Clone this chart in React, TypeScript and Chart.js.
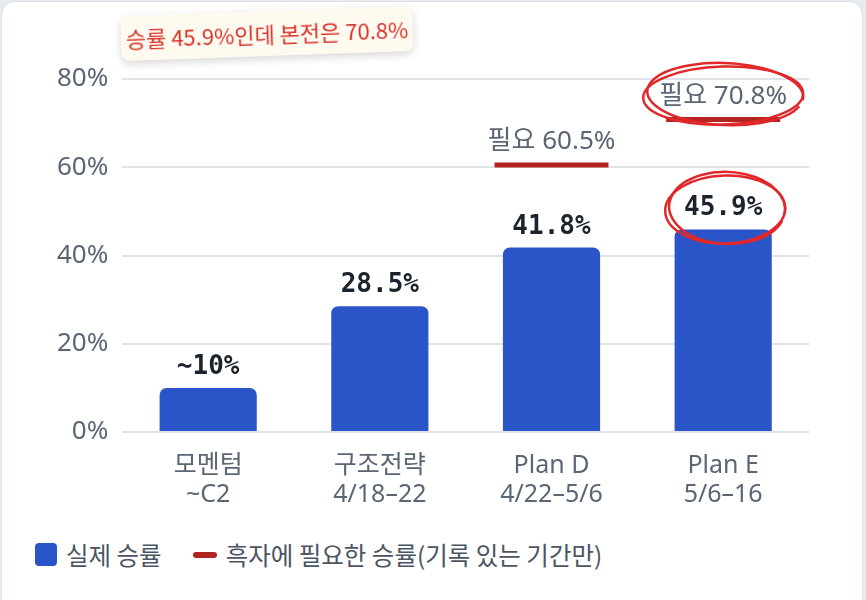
import { useEffect, useRef } from 'react';
import { Chart, registerables } from 'chart.js';

Chart.register(...registerables);

const categories = [
  ['모멘텀', '~C2'],
  ['구조전략', '4/18–22'],
  ['Plan D', '4/22–5/6'],
  ['Plan E', '5/6–16'],
];
const actualWinRate = [10, 28.5, 41.8, 45.9];
const actualLabels = ['~10%', '28.5%', '41.8%', '45.9%'];
const neededWinRate: (number | null)[] = [null, null, 60.5, 70.8];
const yTicks = [0, 20, 40, 60, 80];
const noteText = '승률 45.9%인데 본전은 70.8%';

const BLUE = '#2a55c8';
const DARK_RED = '#b3231f';
const MARKER_RED = '#e0282a';
const GRAY_TEXT = '#5b6675';
const SANS = '"Noto Sans", "Noto Sans CJK KR", sans-serif';

// draws one wobbly, double-stroked ellipse like a marker circle
function handCircle(ctx: CanvasRenderingContext2D, cx: number, cy: number, rx: number, ry: number) {
  ctx.save();
  ctx.strokeStyle = MARKER_RED;
  ctx.lineWidth = 2.5;
  ctx.beginPath();
  ctx.ellipse(cx, cy, rx, ry, -0.03, 0, Math.PI * 2);
  ctx.stroke();
  ctx.beginPath();
  ctx.ellipse(cx + 2, cy - 1.5, rx - 2, ry + 2, 0.04, 0.3, Math.PI * 2 + 0.1);
  ctx.stroke();
  ctx.restore();
}

const annotations = {
  id: 'annotations',
  afterDatasetsDraw(chart: Chart) {
    const ctx = chart.ctx;
    const bars = chart.getDatasetMeta(0).data;
    const marks = chart.getDatasetMeta(1).data;
    ctx.save();
    ctx.textAlign = 'center';
    ctx.textBaseline = 'alphabetic';

    ctx.font = 'bold 26px "DejaVu Sans Mono", monospace';
    ctx.fillStyle = '#1d232c';
    bars.forEach((bar, i) => ctx.fillText(actualLabels[i], bar.x, bar.y - 14));

    ctx.font = `26px ${SANS}`;
    ctx.fillStyle = GRAY_TEXT;
    marks.forEach((pt, i) => {
      const v = neededWinRate[i];
      if (v == null) return;
      ctx.fillText(`필요 ${v}%`, pt.x, pt.y - 16);
    });
    ctx.restore();

    // highlight the last column
    const last = actualWinRate.length - 1;
    const lastMark = marks[last];
    const lastBar = bars[last];
    handCircle(ctx, lastMark.x, lastMark.y - 24, 80, 29);
    handCircle(ctx, lastBar.x + 2, lastBar.y - 20, 60, 34);
  },
};

function WinRateChart() {
  const canvasRef = useRef<HTMLCanvasElement>(null);
  const chartRef = useRef<Chart | null>(null);

  useEffect(() => {
    if (!canvasRef.current) return;
    if (chartRef.current) chartRef.current.destroy();

    chartRef.current = new Chart(canvasRef.current, {
      type: 'bar',
      data: {
        labels: categories,
        datasets: [
          {
            type: 'bar',
            label: '실제 승률',
            data: actualWinRate,
            backgroundColor: BLUE,
            borderRadius: 7,
            borderSkipped: 'start',
            categoryPercentage: 1,
            barPercentage: 0.566,
          },
          {
            type: 'line',
            label: '흑자에 필요한 승률(기록 있는 기간만)',
            data: neededWinRate,
            showLine: false,
            pointStyle: 'line',
            pointRadius: 57,
            pointHoverRadius: 57,
            pointBorderWidth: 5,
            pointBorderColor: DARK_RED,
            borderColor: DARK_RED,
            backgroundColor: DARK_RED,
          },
        ],
      } as any,
      options: {
        responsive: true,
        maintainAspectRatio: false,
        animation: false,
        layout: { padding: { top: 77, left: 41, right: 37, bottom: 8 } },
        plugins: {
          legend: { display: false },
          tooltip: { enabled: false },
        },
        scales: {
          x: {
            grid: { display: false },
            border: { display: false },
            ticks: {
              font: { family: SANS, size: 25, lineHeight: 1.18 },
              color: GRAY_TEXT,
              padding: 11,
            },
          },
          y: {
            min: yTicks[0],
            max: yTicks[yTicks.length - 1],
            afterBuildTicks: (scale: any) => {
              scale.ticks = yTicks.map(value => ({ value }));
            },
            grid: { color: '#dfe3e9', lineWidth: 2, drawTicks: false },
            border: { display: false },
            ticks: {
              callback: (v: any) => `${v}%`,
              font: { family: SANS, size: 26 },
              color: GRAY_TEXT,
              padding: 14,
            },
          },
        },
      },
      plugins: [annotations],
    });

    return () => {
      if (chartRef.current) {
        chartRef.current.destroy();
        chartRef.current = null;
      }
    };
  }, []);

  return <canvas ref={canvasRef}></canvas>;
}

export default function App() {
  useEffect(() => {
    document.body.style.margin = '0';
    document.body.style.background = '#e7eaee';
  }, []);

  return (
    <div
      style={{
        position: 'relative',
        width: 860,
        height: 640,
        marginLeft: 1,
        marginTop: 1,
        background: '#ffffff',
        border: '1px solid #dde1e6',
        borderRadius: 14,
        overflow: 'hidden',
        fontFamily: SANS,
      }}
    >
      <div style={{ position: 'absolute', left: 0, top: 0, width: 869, height: 527 }}>
        <WinRateChart />
      </div>

      <div
        style={{
          position: 'absolute',
          left: 119,
          top: 9,
          width: 292,
          height: 45,
          background: '#fffaf0',
          borderRadius: 8,
          boxShadow: '0 3px 8px rgba(0,0,0,0.16)',
          transform: 'rotate(-2deg)',
          color: '#d8342c',
          fontSize: 22,
          lineHeight: '45px',
          textAlign: 'center',
          fontFamily: '"Noto Sans CJK KR", sans-serif',
          whiteSpace: 'nowrap',
        }}
      >
        {noteText}
      </div>

      <div
        style={{
          position: 'absolute',
          left: 33,
          top: 535,
          display: 'flex',
          alignItems: 'center',
          fontSize: 24.5,
          color: '#4b5563',
          fontFamily: '"Noto Sans CJK KR", sans-serif',
        }}
      >
        <span style={{ width: 22, height: 23, background: BLUE, borderRadius: 4, marginRight: 9 }} />
        <span>실제 승률</span>
        <span style={{ width: 24, height: 6, background: DARK_RED, borderRadius: 3, marginLeft: 31, marginRight: 9 }} />
        <span>흑자에 필요한 승률(기록 있는 기간만)</span>
      </div>
    </div>
  );
}
